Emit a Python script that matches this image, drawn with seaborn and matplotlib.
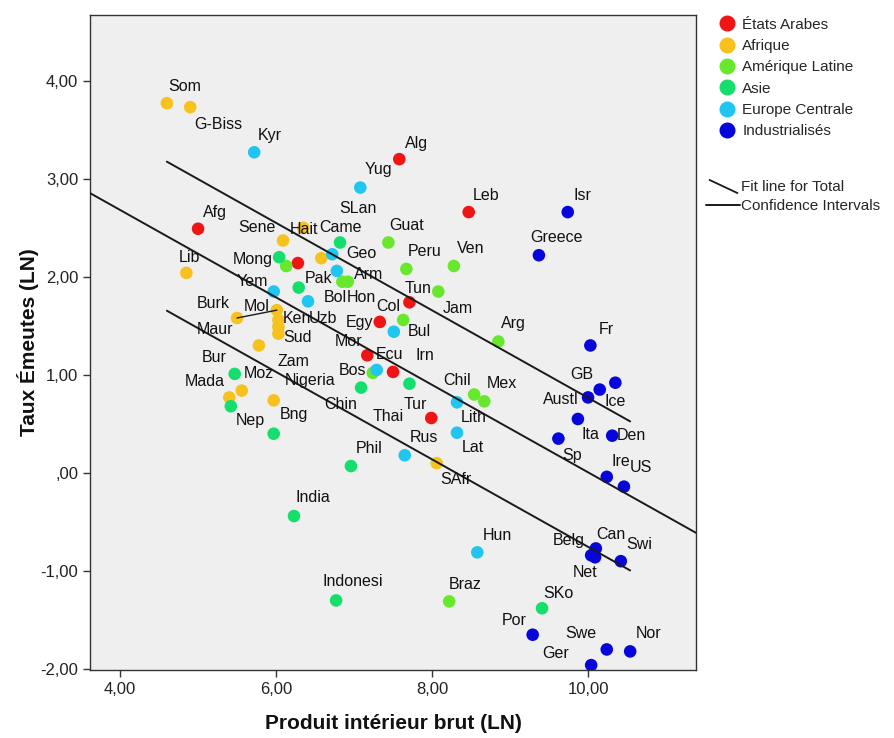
"""Scatter: PIB (LN) vs taux d'émeutes (LN), par groupe de pays"""
import numpy as np
import pandas as pd
import seaborn as sns
import matplotlib.pyplot as plt
from matplotlib.lines import Line2D
from matplotlib.ticker import FuncFormatter

GROUPS = ['États Arabes', 'Afrique', 'Amérique Latine', 'Asie',
          'Europe Centrale', 'Industrialisés']
COLORS = ['#f01414', '#f7c11e', '#68e82c', '#14de6c', '#20c6f0', '#0606dc']

# one list per group: labels ('' = no label shown), GDP (LN), riots (LN)
arab_lab = ['Afg', 'Alg', 'Leb', '', 'Tun', 'Egy', 'Mor', 'Irn', 'Tur']
arab_gdp = [5.00, 7.58, 8.47, 6.28, 7.71, 7.33, 7.17, 7.50, 7.99]
arab_riot = [2.49, 3.20, 2.66, 2.14, 1.74, 1.54, 1.20, 1.03, 0.56]

afr_lab = ['Som', 'G-Biss', 'Hait', 'Sene', 'Came', 'Lib', 'Burk', 'Mol',
           'Ken', 'Maur', 'Sud', 'Zam', 'Moz', 'Mada', 'Nigeria', 'SAfr']
afr_gdp = [4.60, 4.90, 6.35, 6.09, 6.58, 4.85, 5.50, 6.01,
           6.03, 6.03, 6.03, 5.78, 5.56, 5.40, 5.97, 8.06]
afr_riot = [3.77, 3.73, 2.50, 2.37, 2.19, 2.04, 1.58, 1.66,
            1.56, 1.49, 1.42, 1.30, 0.84, 0.77, 0.74, 0.10]

lat_lab = ['Guat', 'Peru', 'Ven', '', 'Bol', 'Hon', 'Jam', 'Col', 'Arg',
           'Ecu', 'Chil', 'Mex', 'Braz']
lat_gdp = [7.44, 7.67, 8.28, 6.13, 6.85, 6.92, 8.08, 7.63, 8.85,
           7.24, 8.54, 8.67, 8.22]
lat_riot = [2.35, 2.08, 2.11, 2.11, 1.95, 1.95, 1.85, 1.56, 1.34,
            1.02, 0.80, 0.73, -1.31]

asie_lab = ['Mong', 'SLan', 'Pak', 'Bur', 'Nep', 'Bng', 'Chin', 'Thai',
            'Phil', 'India', 'Indonesi', 'SKo']
asie_gdp = [6.04, 6.82, 6.29, 5.47, 5.42, 5.97, 7.09, 7.71,
            6.96, 6.23, 6.77, 9.41]
asie_riot = [2.20, 2.35, 1.89, 1.01, 0.68, 0.40, 0.87, 0.91,
             0.07, -0.44, -1.30, -1.38]

eur_lab = ['Kyr', 'Yug', 'Geo', 'Arm', 'Yem', 'Uzb', 'Bul', 'Bos', 'Lith',
           'Lat', 'Rus', 'Hun']
eur_gdp = [5.72, 7.08, 6.72, 6.78, 5.97, 6.41, 7.51, 7.29, 8.32,
           8.32, 7.65, 8.58]
eur_riot = [3.27, 2.91, 2.23, 2.06, 1.85, 1.75, 1.44, 1.05, 0.72,
            0.41, 0.18, -0.81]

ind_lab = ['Isr', 'Greece', 'Fr', 'GB', 'Austl', 'Ice', 'Ita', 'Sp', 'Den',
           'Ire', 'US', 'Can', 'Belg', 'Net', 'Swi', 'Por', 'Swe', 'Nor', 'Ger']
ind_gdp = [9.74, 9.37, 10.03, 10.15, 10.00, 10.35, 9.87, 9.62, 10.31,
           10.24, 10.46, 10.10, 10.04, 10.09, 10.42, 9.29, 10.24, 10.54, 10.04]
ind_riot = [2.66, 2.22, 1.30, 0.85, 0.77, 0.92, 0.55, 0.35, 0.38,
            -0.04, -0.14, -0.77, -0.84, -0.86, -0.90, -1.65, -1.80, -1.82, -1.96]

CI_HALF = 0.76   # half-width of the interval lines

# label placement (offset in pixels from the point: left edge, vertical centre)
OFFSETS = {
    'Afg': (5, 16), 'Alg': (6, 16), 'Leb': (4, 17), 'Tun': (-5, 14),
    'Egy': (-34, -1), 'Mor': (-33, 14), 'Irn': (22, 16), 'Tur': (-28, 14),
    'Som': (1, 17), 'G-Biss': (4, -17), 'Hait': (-14, -2), 'Sene': (-45, 13),
    'Came': (-2, 31), 'Lib': (-8, 15), 'Burk': (-40, 14), 'Mol': (-33, 4),
    'Ken': (4, 1), 'Maur': (-82, -3), 'Sud': (5, -4), 'Zam': (19, -16),
    'Moz': (2, 17), 'Mada': (-45, 16), 'Nigeria': (11, 20), 'SAfr': (4, -16),
    'Guat': (1, 17), 'Peru': (1, 17), 'Ven': (3, 18), 'Bol': (-19, -16),
    'Hon': (-1, -16), 'Jam': (4, -17), 'Col': (-27, 13), 'Arg': (3, 18),
    'Ecu': (3, 18), 'Chil': (-31, 14), 'Mex': (2, 18), 'Braz': (0, 17),
    'Mong': (-46, -2), 'SLan': (-1, 34), 'Pak': (6, 9), 'Bur': (-33, 16),
    'Nep': (5, -14), 'Bng': (6, 19), 'Chin': (-37, -17), 'Thai': (-37, -33),
    'Phil': (5, 18), 'India': (2, 19), 'Indonesi': (-14, 19), 'SKo': (1, 15),
    'Kyr': (4, 17), 'Yug': (4, 18), 'Geo': (14, 1), 'Arm': (17, -4),
    'Yem': (-37, 10), 'Uzb': (1, -17), 'Bul': (14, 0), 'Bos': (-38, -1),
    'Lith': (4, -15), 'Lat': (5, -15), 'Rus': (5, 18), 'Hun': (5, 17),
    'Isr': (6, 17), 'Greece': (-9, 18), 'Fr': (8, 16), 'GB': (-29, 15),
    'Austl': (-45, -2), 'Ice': (-11, -19), 'Ita': (4, -16), 'Sp': (4, -17),
    'Den': (5, 0), 'Ire': (5, 15), 'US': (6, 19), 'Can': (0, 14),
    'Belg': (-38, 15), 'Net': (-22, -15), 'Swi': (5, 17), 'Por': (-31, 14),
    'Swe': (-41, 16), 'Nor': (6, 18), 'Ger': (-49, 12),
}

parts = [(arab_lab, arab_gdp, arab_riot), (afr_lab, afr_gdp, afr_riot),
         (lat_lab, lat_gdp, lat_riot), (asie_lab, asie_gdp, asie_riot),
         (eur_lab, eur_gdp, eur_riot), (ind_lab, ind_gdp, ind_riot)]
df = pd.concat([pd.DataFrame({'label': lab, 'gdp': g, 'riot': r, 'group': grp})
                for grp, (lab, g, r) in zip(GROUPS, parts)], ignore_index=True)

sns.set_theme(style='white')
plt.rcParams['font.family'] = ['Liberation Sans', 'DejaVu Sans']
plt.rcParams['axes.unicode_minus'] = False

fig = plt.figure(figsize=(8.94, 7.38), dpi=100, facecolor='white')
ax = fig.add_axes([0.1007, 0.0921, 0.6779, 0.8876])
ax.set_facecolor('#efefef')
ax.set_xlim(3.615, 11.385)
ax.set_ylim(-2.01, 4.67)

sns.scatterplot(data=df, x='gdp', y='riot', hue='group', hue_order=GROUPS,
                palette=dict(zip(GROUPS, COLORS)), s=82, linewidth=0,
                legend=False, ax=ax, zorder=2)

# fit line over the whole axis, interval lines over the data range
sns.regplot(data=df, x='gdp', y='riot', scatter=False, ci=None, truncate=False,
            color='#1a1a1a', line_kws={'lw': 1.4, 'zorder': 3}, ax=ax)
slope, icpt = np.polyfit(df['gdp'], df['riot'], 1)
xs = np.array([df['gdp'].min(), df['gdp'].max()])
for sign in (1, -1):
    ax.plot(xs, icpt + slope * xs + sign * CI_HALF, color='#1a1a1a', lw=1.4, zorder=3)

# leader line Burk -> Mol
pair = df.set_index('label').loc[['Burk', 'Mol']]
ax.plot(pair['gdp'], pair['riot'], color='#1a1a1a', lw=1.0, zorder=3)

for _, row in df[df['label'] != ''].iterrows():
    dx, dy = OFFSETS[row['label']]
    ax.annotate(row['label'], (row['gdp'], row['riot']), xytext=(dx, dy),
                textcoords='offset pixels', ha='left', va='center',
                fontsize=11.5, color='#111111', zorder=4)


def spss_fmt(v, _):
    s = f'{v:.2f}'.replace('.', ',')
    return s[1:] if s.startswith('0,') else s


ax.set_xticks([4, 6, 8, 10])
ax.set_yticks([-2, -1, 0, 1, 2, 3, 4])
ax.xaxis.set_major_formatter(FuncFormatter(spss_fmt))
ax.yaxis.set_major_formatter(FuncFormatter(spss_fmt))
ax.tick_params(axis='both', direction='out', length=5, width=1, color='#333333',
               labelsize=12, labelcolor='#222222', bottom=True, left=True)
for sp in ax.spines.values():
    sp.set_color('#333333')
    sp.set_linewidth(1.0)

ax.set_xlabel('Produit intérieur brut (LN)', fontsize=15, fontweight='bold',
              color='#111111', labelpad=12)
ax.set_ylabel('Taux Émeutes (LN)', fontsize=15, fontweight='bold',
              color='#111111', labelpad=1)

handles = [Line2D([], [], marker='o', linestyle='None', markersize=10.5,
                  markerfacecolor=c, markeredgecolor=c) for c in COLORS]
fig.legend(handles, GROUPS, loc='upper left', bbox_to_anchor=(0.8045, 0.976),
           frameon=False, fontsize=11, handlelength=1.0, handletextpad=0.5,
           labelspacing=0.48, borderpad=0, borderaxespad=0)
line_handles = [
    Line2D([], [], color='#1a1a1a', marker=[(-1, 0.47), (1, -0.47)],
           linestyle='None', markersize=21, markeredgewidth=1.3),
    Line2D([], [], color='#1a1a1a', lw=1.4),
]
fig.legend(line_handles, ['Fit line for Total', 'Confidence Intervals'],
           loc='upper left', bbox_to_anchor=(0.79, 0.756), frameon=False,
           fontsize=11, handlelength=2.2, handletextpad=0.1, labelspacing=0.33,
           borderpad=0, borderaxespad=0)

fig.savefig('out.png', dpi=100, facecolor='white')
print('Saved: out.png')
